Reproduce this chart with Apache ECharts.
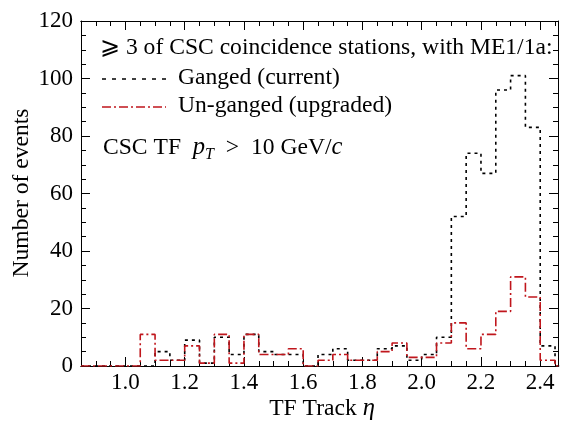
<!DOCTYPE html>
<html>
<head>
<meta charset="utf-8">
<script src="https://cdn.jsdelivr.net/npm/echarts@6/dist/echarts.min.js"></script>
<style>html,body{margin:0;padding:0;background:#fff}#c{width:565px;height:424px}</style>
</head>
<body>
<div id="c"></div>
<script>
// bin lower edges (width 0.05)
var binLow = [0.85,0.90,0.95,1.00,1.05,1.10,1.15,1.20,1.25,1.30,1.35,1.40,1.45,1.50,1.55,1.60,1.65,1.70,1.75,1.80,1.85,1.90,1.95,2.00,2.05,2.10,2.15,2.20,2.25,2.30,2.35,2.40,2.45];
var lastEdge = 2.50;
var ganged   = [0,0,0,0,0,5,2,9,1,10,4,11,5,4,4,0,4,6,2,2,6,7,2,4,10,52,74,67,96,101,83,7,0];
var unganged = [0,0,0,0,11,2,2,7,1,11,1,11,4,4,6,0,2,4,2,2,5,8,3,3,8,15,6,11,19,31,24,2,0];
var xMajor = [1.0,1.2,1.4,1.6,1.8,2.0,2.2,2.4];
var xMinor = [0.85,0.90,0.95,1.00,1.05,1.10,1.15,1.20,1.25,1.30,1.35,1.40,1.45,1.50,1.55,1.60,1.65,1.70,1.75,1.80,1.85,1.90,1.95,2.00,2.05,2.10,2.15,2.20,2.25,2.30,2.35,2.40,2.45];

var FONT = '"Liberation Serif", "DejaVu Serif", serif';
var FS = 23;
var GS = 23.6;
function histData(vals){
  var d = binLow.map(function(e,i){return [e, vals[i]];});
  d.push([lastEdge, vals[vals.length-1]]);
  return d;
}
function xAx(pos, tickVals, len, labels){
  return {type:'value', position:pos, min:0.85, max:2.46,
    axisLine:{show:true, onZero:false, lineStyle:{color:'#000', width:1}},
    axisTick:{show:true, inside:true, length:len, customValues:tickVals, lineStyle:{color:'#000', width:1}},
    axisLabel:{show:labels, customValues:xMajor, formatter:function(v){return v.toFixed(1);}, fontFamily:FONT, fontSize:FS, color:'#000', margin:5},
    splitLine:{show:false}};
}
function yAx(pos, labels){
  return {type:'value', position:pos, min:0, max:120, interval:20,
    axisLine:{show:true, onZero:false, lineStyle:{color:'#000', width:1}},
    axisTick:{show:true, inside:true, length:9, lineStyle:{color:'#000'}},
    minorTick:{show:true, splitNumber:4, length:5, lineStyle:{color:'#000'}},
    axisLabel:{show:labels, fontFamily:FONT, fontSize:FS, color:'#000', margin:8},
    splitLine:{show:false}};
}
var chart = echarts.init(document.getElementById('c'), null, {renderer:'canvas'});
chart.setOption({
  animation:false,
  grid:{left:81, right:7, top:21, bottom:58},
  xAxis:[xAx('bottom', xMajor, 9, true), xAx('bottom', xMinor, 5, false), xAx('top', xMajor, 9, false), xAx('top', xMinor, 5, false)],
  yAxis:[yAx('left', true), yAx('right', false)],
  series:[
    {type:'line', step:'end', xAxisIndex:0, yAxisIndex:0, showSymbol:false, symbol:'none', data:histData(ganged),
     lineStyle:{color:'#000', width:1.6, type:[3,4]}},
    {type:'line', step:'end', xAxisIndex:0, yAxisIndex:0, showSymbol:false, symbol:'none', data:histData(unganged),
     lineStyle:{color:'#c0161c', width:1.6, type:[9,3,2,3]}}
  ],
  graphic:[
    {type:'text', x:100, y:48, style:{text:'\u2A7E 3 of CSC coincidence stations, with ME1/1a:', font:GS+'px '+FONT, fill:'#000', verticalAlign:'middle'}},
    {type:'line', shape:{x1:102, y1:79, x2:166, y2:79}, style:{stroke:'#000', lineWidth:1.6, lineDash:[4,6]}},
    {type:'text', x:178, y:78, style:{text:'Ganged (current)', font:GS+'px '+FONT, fill:'#000', verticalAlign:'middle'}},
    {type:'line', shape:{x1:102, y1:107, x2:166, y2:107}, style:{stroke:'#c0161c', lineWidth:1.6, lineDash:[9,3,2,3]}},
    {type:'text', x:178, y:106, style:{text:'Un-ganged (upgraded)', font:GS+'px '+FONT, fill:'#000', verticalAlign:'middle'}},
    {type:'text', x:103, y:133, style:{
      rich:{n:{fontFamily:FONT, fontSize:GS, fill:'#000'}, i:{fontFamily:FONT, fontSize:GS+1, fontStyle:'italic', fill:'#000'}, s:{fontFamily:FONT, fontSize:16, fontStyle:'italic', fill:'#000', padding:[14,0,0,0]}},
      text:'{n|CSC TF  }{i|p}{s|T}{n|  >  10 GeV/}{i|c}'}},
    {type:'text', x:22, y:193, rotation:Math.PI/2, style:{text:'Number of events', font:GS+'px '+FONT, fill:'#000', align:'center', verticalAlign:'middle'}},
    {type:'text', x:322, y:409, style:{rich:{n:{fontFamily:FONT, fontSize:GS, fill:'#000'}, i:{fontFamily:FONT, fontSize:GS+1, fontStyle:'italic', fill:'#000'}}, text:'{n|TF Track }{i|\u03B7}', align:'center', verticalAlign:'middle'}}
  ]
});
</script>
</body>
</html>
